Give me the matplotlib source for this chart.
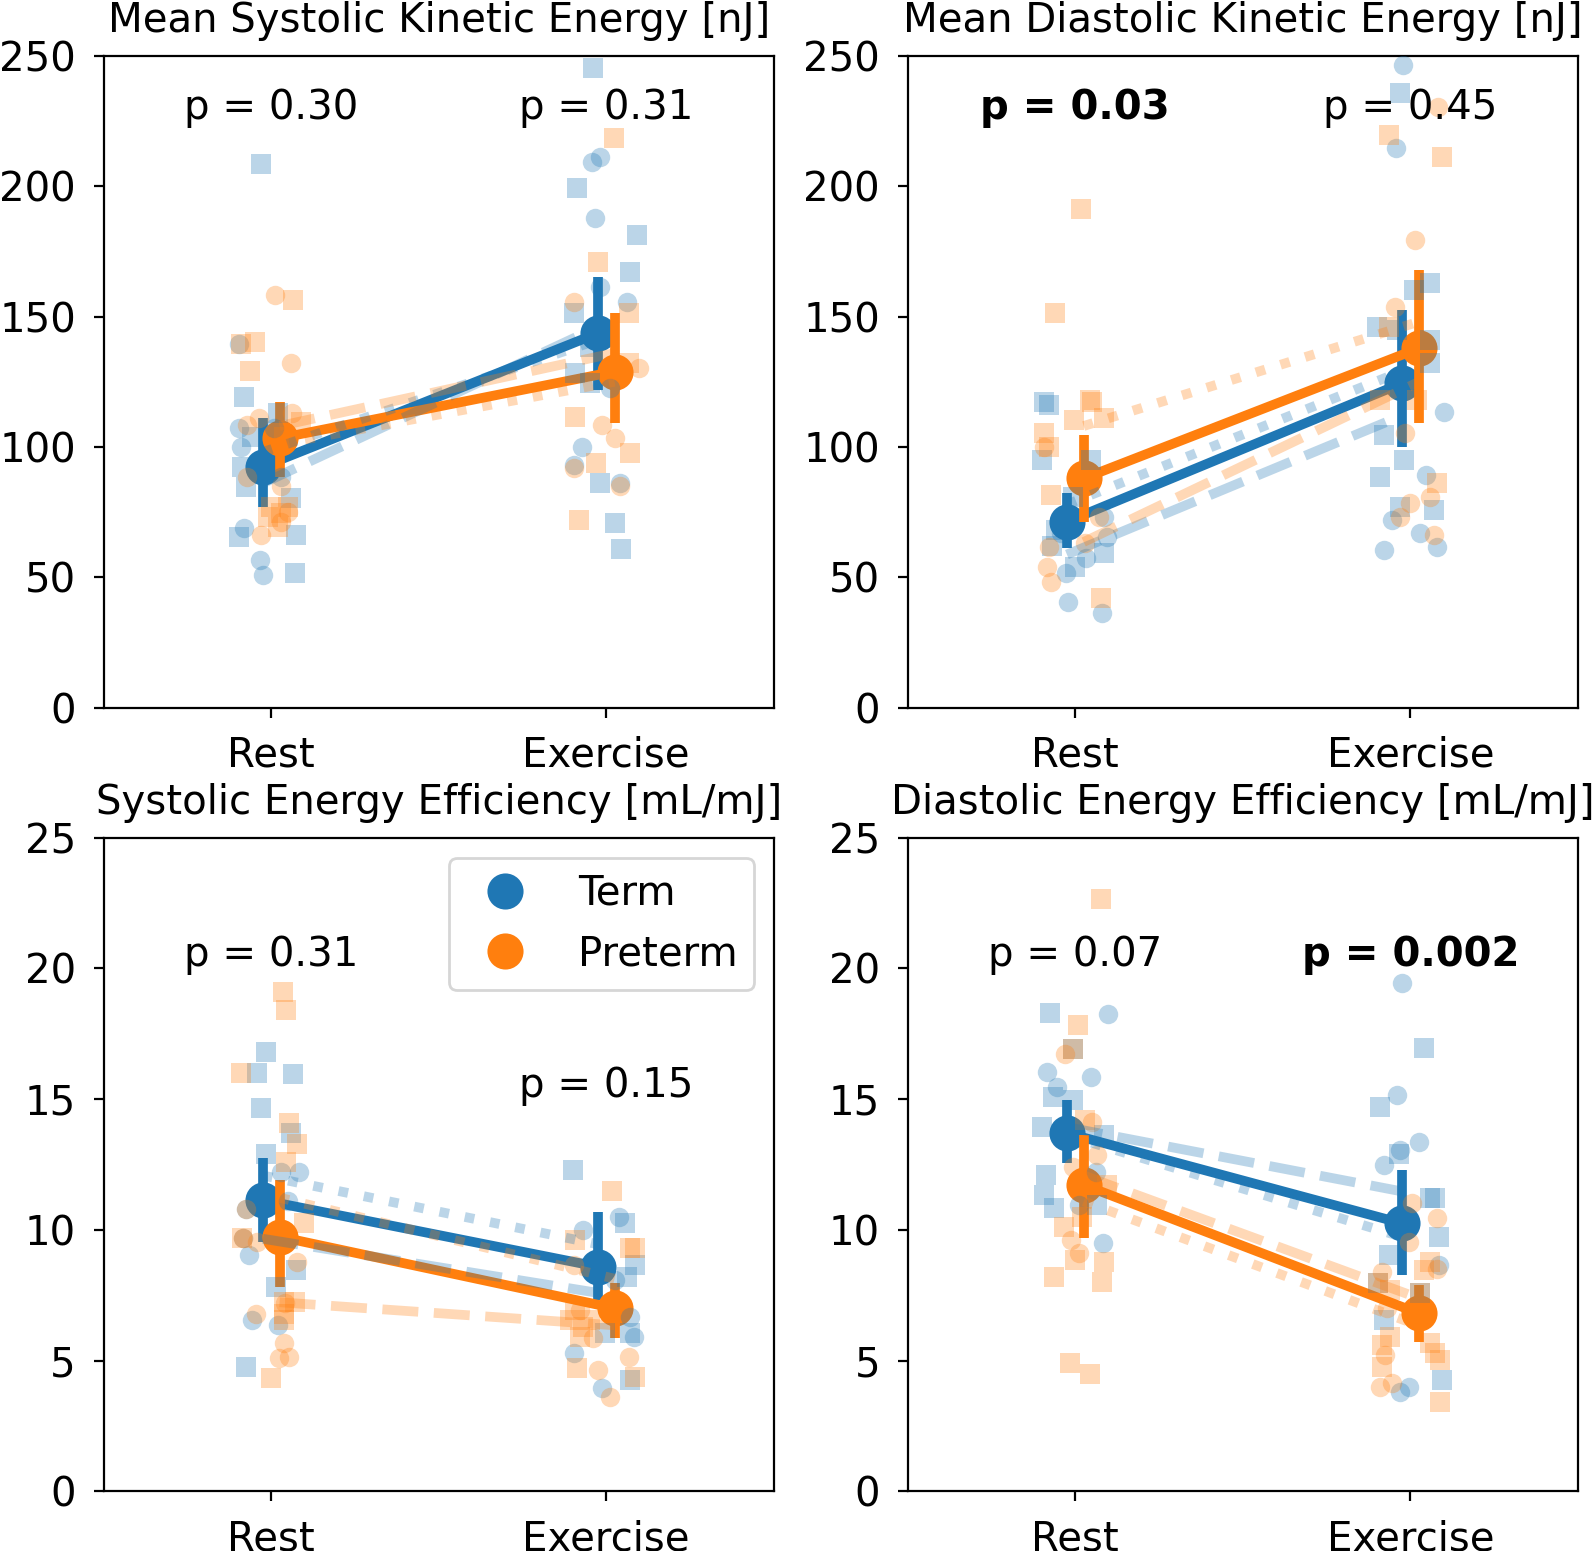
import numpy as np
import matplotlib.pyplot as plt
from matplotlib.lines import Line2D

plt.rcParams['font.size'] = 14.5
plt.rcParams['axes.titlesize'] = 14.5
plt.rcParams['axes.titlepad'] = 8.5
plt.rcParams['xtick.major.pad'] = 6.5
plt.rcParams['ytick.major.pad'] = 6.5

TERM_C = '#1f77b4'
PRE_C = '#ff7f0e'
DODGE = 0.025

conditions = ['Rest', 'Exercise']
groups = ['Term', 'Preterm']

# ---------- Mean Systolic Kinetic Energy [nJ] ----------
sk_term_rest_circ = [139.4, 107.1, 107.1, 100.1, 88.6, 68.8, 56.6, 50.8]
sk_term_rest_circ_jit = [-0.096, 0.009, -0.096, -0.091, 0.029, -0.08, -0.034, -0.024]
sk_term_rest_sq = [208.7, 119.3, 112.9, 103.9, 92.4, 84.7, 80.3, 65.5, 66.2, 51.5]
sk_term_rest_sq_jit = [-0.03, -0.08, 0.02, -0.056, -0.086, -0.076, 0.058, -0.096, 0.073, 0.07]
sk_pre_rest_circ = [158.3, 132.3, 111.0, 112.9, 108.4, 88.6, 85.0, 75.0, 66.2, 71.0]
sk_pre_rest_circ_jit = [0.011, 0.06, -0.036, 0.063, -0.071, -0.071, 0.03, 0.05, -0.031, 0.03]
sk_pre_rest_sq = [156.4, 140.4, 139.4, 129.2, 109.7, 103.9, 77.0, 74.5, 77.0, 73.2, 69.4]
sk_pre_rest_sq_jit = [0.066, -0.049, -0.089, -0.064, 0.088, 0.038, 0.0, 0.03, 0.05, -0.01, 0.02]
sk_term_ex_circ = [209.4, 211.4, 187.7, 161.5, 155.7, 122.5, 100.1, 93.0, 86.0]
sk_term_ex_circ_jit = [-0.042, -0.02, -0.032, -0.018, 0.062, 0.012, -0.072, -0.097, 0.04]
sk_term_ex_sq = [245.3, 199.2, 181.3, 167.2, 151.3, 138.5, 128.2, 124.4, 86.0, 70.7, 60.8]
sk_term_ex_sq_jit = [-0.038, -0.087, 0.092, 0.07, -0.097, -0.047, -0.092, -0.047, -0.02, 0.027, 0.045]
sk_pre_ex_circ = [155.7, 130.2, 108.4, 103.3, 91.8, 84.8]
sk_pre_ex_circ_jit = [-0.097, 0.097, -0.013, 0.027, -0.097, 0.04]
sk_pre_ex_sq = [218.4, 171.1, 151.3, 132.1, 111.6, 97.5, 93.7, 71.9]
sk_pre_ex_sq_jit = [0.022, -0.023, 0.067, 0.067, -0.092, 0.072, -0.03, -0.082]
sk_term_mean = [92.4, 143.6]
sk_term_lo = [77.0, 121.8]
sk_term_hi = [111.0, 165.3]
sk_pre_mean = [103.3, 128.9]
sk_pre_lo = [88.6, 109.0]
sk_pre_hi = [117.3, 151.3]
sk_term_dashed = [86.0, 146.0]
sk_term_dotted = [98.0, 141.0]
sk_pre_dashed = [108.0, 136.0]
sk_pre_dotted = [101.0, 125.0]
sk_pvals = ['0.30', '0.31']
sk_pbold = [False, False]
sk_py = [230, 230]

# ---------- Mean Diastolic Kinetic Energy [nJ] ----------
dk_term_rest_circ = [73.2, 65.5, 66.8, 57.3, 51.5, 40.6, 36.1]
dk_term_rest_circ_jit = [0.086, 0.096, -0.043, 0.031, -0.028, -0.023, 0.081]
dk_term_rest_sq = [117.3, 116.0, 95.0, 95.0, 80.9, 68.1, 59.2, 54.0, 62.0]
dk_term_rest_sq_jit = [-0.093, -0.078, -0.098, 0.046, -0.008, -0.058, 0.086, 0.0, -0.07]
dk_pre_rest_circ = [100.1, 61.7, 54.0, 48.3, 73.0, 63.0]
dk_pre_rest_circ_jit = [-0.093, -0.078, -0.083, -0.073, 0.07, 0.03]
dk_pre_rest_sq = [191.2, 151.3, 117.3, 118.0, 111.0, 110.3, 105.2, 100.0, 81.5, 41.9]
dk_pre_rest_sq_jit = [0.016, -0.061, 0.051, 0.045, 0.086, -0.004, -0.093, -0.08, -0.073, 0.076]
dk_term_ex_circ = [246.5, 214.6, 113.5, 89.2, 72.0, 66.8, 61.7, 60.4]
dk_term_ex_circ_jit = [-0.022, -0.042, 0.1, 0.048, -0.055, 0.03, 0.08, -0.08]
dk_term_ex_sq = [235.7, 162.8, 160.2, 146.1, 145.0, 141.0, 132.1, 104.6, 95.0, 88.6, 75.8, 77.0]
dk_term_ex_sq_jit = [-0.032, 0.06, 0.01, -0.1, -0.04, 0.06, 0.06, -0.08, -0.02, -0.09, 0.07, -0.03]
dk_pre_ex_circ = [230.5, 179.4, 153.8, 105.2, 80.9, 78.4, 73.2, 66.2]
dk_pre_ex_circ_jit = [0.084, 0.013, -0.045, -0.015, 0.06, 0.0, -0.03, 0.07]
dk_pre_ex_sq = [219.7, 211.4, 146.1, 118.0, 118.0, 86.0]
dk_pre_ex_sq_jit = [-0.065, 0.094, -0.065, -0.09, 0.02, 0.08]
dk_term_mean = [71.3, 124.4]
dk_term_lo = [61.1, 100.1]
dk_term_hi = [82.2, 152.5]
dk_pre_mean = [87.9, 137.8]
dk_pre_lo = [71.3, 109.0]
dk_pre_hi = [104.6, 167.9]
dk_term_dashed = [58.7, 112.0]
dk_term_dotted = [77.9, 129.0]
dk_pre_dashed = [63.5, 124.9]
dk_pre_dotted = [108.0, 148.0]
dk_pvals = ['0.03', '0.45']
dk_pbold = [True, False]
dk_py = [230, 230]

# ---------- Systolic Energy Efficiency [mL/mJ] ----------
se_term_rest_circ = [12.2, 12.2, 11.1, 10.8, 9.7, 9.04, 6.55, 6.36]
se_term_rest_circ_jit = [0.029, 0.083, 0.049, -0.076, -0.083, -0.066, -0.056, 0.019]
se_term_rest_sq = [16.8, 16.0, 15.96, 14.65, 13.7, 12.9, 8.47, 7.83, 4.77]
se_term_rest_sq_jit = [-0.016, -0.043, 0.066, -0.031, 0.06, -0.016, 0.073, 0.014, -0.076]
se_pre_rest_circ = [10.8, 9.7, 9.55, 8.78, 6.8, 7.2, 5.66, 5.09, 5.15]
se_pre_rest_circ_jit = [-0.076, -0.083, -0.041, 0.078, -0.046, 0.04, 0.038, 0.024, 0.054]
se_pre_rest_sq = [19.1, 18.4, 16.0, 14.1, 13.3, 12.6, 9.7, 10.25, 7.25, 7.25, 6.8, 6.55, 4.32]
se_pre_rest_sq_jit = [0.034, 0.044, -0.089, 0.053, 0.078, 0.044, -0.086, 0.098, 0.038, 0.072, 0.038, 0.038, 0.0]
se_term_ex_circ = [10.5, 10.0, 8.53, 8.08, 6.68, 5.91, 5.28, 3.94]
se_term_ex_circ_jit = [0.037, -0.069, -0.042, 0.027, 0.072, 0.082, -0.097, -0.013]
se_term_ex_sq = [12.3, 10.28, 8.66, 8.21, 6.04, 6.04, 4.26]
se_term_ex_sq_jit = [-0.099, 0.055, 0.085, 0.062, -0.003, 0.072, 0.07]
se_pre_ex_circ = [8.66, 6.94, 5.85, 5.15, 4.64, 3.62]
se_pre_ex_circ_jit = [-0.097, -0.077, -0.039, 0.067, -0.023, 0.012]
se_pre_ex_sq = [11.49, 9.61, 9.3, 9.3, 6.94, 6.55, 6.55, 6.3, 5.91, 4.7, 4.38]
se_pre_ex_sq_jit = [0.017, -0.092, 0.072, 0.087, -0.092, -0.047, -0.107, -0.068, -0.077, -0.087, 0.087]
se_term_mean = [11.14, 8.59]
se_term_lo = [9.55, 7.32]
se_term_hi = [12.74, 10.7]
se_pre_mean = [9.74, 7.0]
se_pre_lo = [7.83, 5.85]
se_pre_hi = [11.9, 7.96]
se_term_dashed = [9.66, 7.59]
se_term_dotted = [12.08, 9.45]
se_pre_dashed = [7.23, 6.35]
se_pre_dotted = [11.23, 8.13]
se_pvals = ['0.31', '0.15']
se_pbold = [False, False]
se_py = [20.5, 15.5]

# ---------- Diastolic Energy Efficiency [mL/mJ] ----------
de_term_rest_circ = [18.25, 16.05, 15.84, 15.48, 12.23, 10.95, 9.49]
de_term_rest_circ_jit = [0.098, -0.085, 0.046, -0.055, 0.061, 0.011, 0.084]
de_term_rest_sq = [18.29, 16.91, 15.1, 14.97, 13.95, 13.63, 12.1, 11.34, 10.83, 10.95]
de_term_rest_sq_jit = [-0.075, -0.008, -0.068, -0.008, -0.098, 0.086, -0.088, -0.093, -0.063, 0.066]
de_pre_rest_circ = [16.72, 14.14, 12.87, 12.42, 9.61, 9.1]
de_pre_rest_circ_jit = [-0.031, 0.051, 0.066, -0.008, -0.013, 0.011]
de_pre_rest_sq = [22.65, 17.84, 16.91, 14.2, 11.72, 10.12, 10.5, 8.85, 8.78, 8.21, 8.02, 4.9, 4.47]
de_pre_rest_sq_jit = [0.076, 0.008, -0.008, 0.03, 0.096, -0.033, 0.02, 0.0, 0.086, -0.063, 0.081, -0.015, 0.045]
de_term_ex_circ = [19.43, 15.16, 13.37, 13.06, 12.48, 8.66, 4.0, 3.8]
de_term_ex_circ_jit = [-0.025, -0.04, 0.025, -0.032, -0.08, 0.085, -0.005, -0.03]
de_term_ex_sq = [16.95, 14.71, 12.9, 11.21, 11.2, 9.74, 9.04, 7.96, 7.57, 6.55, 4.26]
de_term_ex_sq_jit = [0.04, -0.09, -0.035, 0.06, 0.075, 0.085, -0.065, -0.095, 0.03, -0.08, 0.095]
de_pre_ex_circ = [11.02, 10.44, 9.55, 8.5, 8.4, 7.0, 5.21, 4.13, 4.0]
de_pre_ex_circ_jit = [0.005, 0.08, -0.005, 0.08, -0.085, -0.07, -0.075, -0.055, -0.09]
de_pre_ex_sq = [8.78, 8.47, 7.96, 7.7, 7.57, 5.91, 5.6, 5.66, 5.28, 5.02, 4.77, 3.4]
de_pre_ex_sq_jit = [0.06, 0.04, -0.095, -0.06, 0.03, -0.06, -0.085, 0.06, 0.075, 0.09, -0.085, 0.09]
de_term_mean = [13.7, 10.25]
de_term_lo = [12.55, 8.27]
de_term_hi = [14.97, 12.29]
de_pre_mean = [11.72, 6.81]
de_pre_lo = [9.68, 5.72]
de_pre_hi = [13.63, 7.89]
de_term_dashed = [13.93, 11.47]
de_term_dotted = [13.62, 9.73]
de_pre_dashed = [12.08, 7.39]
de_pre_dotted = [11.09, 6.34]
de_pvals = ['0.07', '0.002']
de_pbold = [False, True]
de_py = [20.5, 20.5]


def DrawMean(ax, xs, mean, lo, hi, color):
    ax.plot(xs, mean, color=color, lw=3.5, marker='o', ms=12, zorder=2)
    ax.vlines(xs, lo, hi, color=color, lw=3.5, zorder=2)


def DrawPoints(ax, x0, vals, jit, marker, color):
    ax.plot(x0 + np.array(jit), vals, ls='none', marker=marker, ms=7,
            mew=0, color=color, alpha=0.3, zorder=3)


def DrawPanel(ax, title, pts, means, subs, pvals, pbold, py, ylim):
    xpos = np.arange(len(conditions))
    # means + error bars, Term then Preterm
    DrawMean(ax, xpos - DODGE, *means[0], TERM_C)
    DrawMean(ax, xpos + DODGE, *means[1], PRE_C)
    # individual points
    for (x0, vals, jit, marker, color) in pts:
        DrawPoints(ax, x0, vals, jit, marker, color)
    # subgroup mean lines
    ax.plot(xpos - DODGE, subs[0], color=TERM_C, lw=3.5, ls='--', alpha=0.3, zorder=3)
    ax.plot(xpos - DODGE, subs[1], color=TERM_C, lw=3.5, ls=':', alpha=0.3, zorder=3)
    ax.plot(xpos + DODGE, subs[2], color=PRE_C, lw=3.5, ls='--', alpha=0.3, zorder=3)
    ax.plot(xpos + DODGE, subs[3], color=PRE_C, lw=3.5, ls=':', alpha=0.3, zorder=3)
    for i in range(2):
        ax.text(xpos[i], py[i], f"p = {pvals[i]}", ha='center', va='center',
                fontweight='bold' if pbold[i] else 'normal', zorder=4)
    ax.set_xlim(-0.5, 1.5)
    ax.set_ylim(*ylim)
    ax.set_xticks(xpos)
    ax.set_xticklabels(conditions)
    ax.set_title(title)


fig = plt.figure(figsize=(1594 / 200, 1551 / 200), dpi=200)
W, H = 1594.0, 1551.0
axTL = fig.add_axes([103.7 / W, 1 - 707.5 / H, 670 / W, 651.6 / H])
axTR = fig.add_axes([907.8 / W, 1 - 707.5 / H, 670 / W, 651.6 / H])
axBL = fig.add_axes([103.7 / W, 1 - 1491.3 / H, 670 / W, 653.6 / H])
axBR = fig.add_axes([907.8 / W, 1 - 1491.3 / H, 670 / W, 653.6 / H])

DrawPanel(axTL, "Mean Systolic Kinetic Energy [nJ]",
          [(0, sk_term_rest_circ, sk_term_rest_circ_jit, 'o', TERM_C),
           (0, sk_term_rest_sq, sk_term_rest_sq_jit, 's', TERM_C),
           (1, sk_term_ex_circ, sk_term_ex_circ_jit, 'o', TERM_C),
           (1, sk_term_ex_sq, sk_term_ex_sq_jit, 's', TERM_C),
           (0, sk_pre_rest_circ, sk_pre_rest_circ_jit, 'o', PRE_C),
           (0, sk_pre_rest_sq, sk_pre_rest_sq_jit, 's', PRE_C),
           (1, sk_pre_ex_circ, sk_pre_ex_circ_jit, 'o', PRE_C),
           (1, sk_pre_ex_sq, sk_pre_ex_sq_jit, 's', PRE_C)],
          [(sk_term_mean, sk_term_lo, sk_term_hi), (sk_pre_mean, sk_pre_lo, sk_pre_hi)],
          [sk_term_dashed, sk_term_dotted, sk_pre_dashed, sk_pre_dotted],
          sk_pvals, sk_pbold, sk_py, (0, 250))

DrawPanel(axTR, "Mean Diastolic Kinetic Energy [nJ]",
          [(0, dk_term_rest_circ, dk_term_rest_circ_jit, 'o', TERM_C),
           (0, dk_term_rest_sq, dk_term_rest_sq_jit, 's', TERM_C),
           (1, dk_term_ex_circ, dk_term_ex_circ_jit, 'o', TERM_C),
           (1, dk_term_ex_sq, dk_term_ex_sq_jit, 's', TERM_C),
           (0, dk_pre_rest_circ, dk_pre_rest_circ_jit, 'o', PRE_C),
           (0, dk_pre_rest_sq, dk_pre_rest_sq_jit, 's', PRE_C),
           (1, dk_pre_ex_circ, dk_pre_ex_circ_jit, 'o', PRE_C),
           (1, dk_pre_ex_sq, dk_pre_ex_sq_jit, 's', PRE_C)],
          [(dk_term_mean, dk_term_lo, dk_term_hi), (dk_pre_mean, dk_pre_lo, dk_pre_hi)],
          [dk_term_dashed, dk_term_dotted, dk_pre_dashed, dk_pre_dotted],
          dk_pvals, dk_pbold, dk_py, (0, 250))

DrawPanel(axBL, "Systolic Energy Efficiency [mL/mJ]",
          [(0, se_term_rest_circ, se_term_rest_circ_jit, 'o', TERM_C),
           (0, se_term_rest_sq, se_term_rest_sq_jit, 's', TERM_C),
           (1, se_term_ex_circ, se_term_ex_circ_jit, 'o', TERM_C),
           (1, se_term_ex_sq, se_term_ex_sq_jit, 's', TERM_C),
           (0, se_pre_rest_circ, se_pre_rest_circ_jit, 'o', PRE_C),
           (0, se_pre_rest_sq, se_pre_rest_sq_jit, 's', PRE_C),
           (1, se_pre_ex_circ, se_pre_ex_circ_jit, 'o', PRE_C),
           (1, se_pre_ex_sq, se_pre_ex_sq_jit, 's', PRE_C)],
          [(se_term_mean, se_term_lo, se_term_hi), (se_pre_mean, se_pre_lo, se_pre_hi)],
          [se_term_dashed, se_term_dotted, se_pre_dashed, se_pre_dotted],
          se_pvals, se_pbold, se_py, (0, 25))

DrawPanel(axBR, "Diastolic Energy Efficiency [mL/mJ]",
          [(0, de_term_rest_circ, de_term_rest_circ_jit, 'o', TERM_C),
           (0, de_term_rest_sq, de_term_rest_sq_jit, 's', TERM_C),
           (1, de_term_ex_circ, de_term_ex_circ_jit, 'o', TERM_C),
           (1, de_term_ex_sq, de_term_ex_sq_jit, 's', TERM_C),
           (0, de_pre_rest_circ, de_pre_rest_circ_jit, 'o', PRE_C),
           (0, de_pre_rest_sq, de_pre_rest_sq_jit, 's', PRE_C),
           (1, de_pre_ex_circ, de_pre_ex_circ_jit, 'o', PRE_C),
           (1, de_pre_ex_sq, de_pre_ex_sq_jit, 's', PRE_C)],
          [(de_term_mean, de_term_lo, de_term_hi), (de_pre_mean, de_pre_lo, de_pre_hi)],
          [de_term_dashed, de_term_dotted, de_pre_dashed, de_pre_dotted],
          de_pvals, de_pbold, de_py, (0, 25))

handles = [Line2D([], [], ls='none', marker='o', ms=12, color=TERM_C),
           Line2D([], [], ls='none', marker='o', ms=12, color=PRE_C)]
axBL.legend(handles, groups, loc='upper right')

fig.savefig('out.png', dpi=200)
